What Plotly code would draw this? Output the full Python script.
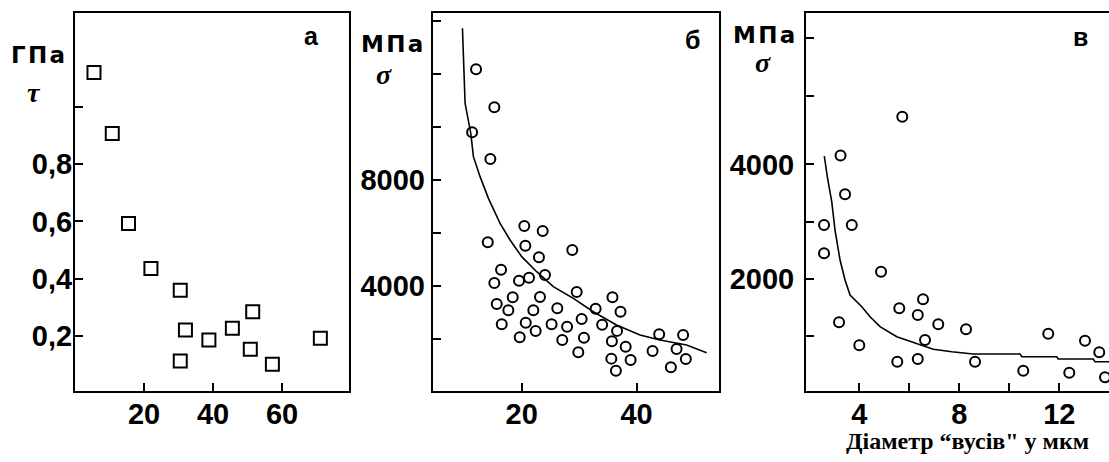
import plotly.graph_objects as go

W, H = 1109, 462

# ---------------- data ----------------
# panel a: shear strength tau (GPa) vs diameter
a_x = [5.5, 10.8, 15.5, 22.0, 30.5, 32.0, 30.5, 38.8, 45.6, 51.5, 50.8, 57.2, 71.1]
a_y = [1.12, 0.907, 0.593, 0.436, 0.36, 0.221, 0.113, 0.186, 0.227, 0.285, 0.154, 0.101, 0.192]

# panel b: sigma (MPa) vs diameter
b_x = [12.05, 15.23, 11.36, 14.54, 14.09, 20.45, 23.65, 20.63, 28.8, 23.0, 16.4, 15.23,
       19.53, 21.27, 24.05, 29.57, 18.43, 23.18, 35.8, 15.65, 17.67, 22.02, 26.19, 32.87,
       37.2, 16.52, 20.7, 22.43, 25.2, 27.9, 30.43, 34.0, 36.6, 19.65, 27.06, 30.83,
       35.7, 38.1, 29.85, 35.6, 38.96, 36.4, 42.78, 43.93, 48.1, 46.96, 48.57, 45.97]
b_y = [12189, 10751, 9805, 8794, 5642, 6259, 6070, 5514, 5351, 5075, 4605, 4102,
       4189, 4303, 4405, 3762, 3561, 3572, 3561, 3308, 3069, 3069, 3145, 3130,
       3016, 2539, 2600, 2286, 2539, 2449, 2740, 2524, 2290, 2047, 1945, 2032,
       1900, 1692, 1480, 1240, 1189, 784, 1529, 2161, 2134, 1605, 1226, 912]
b_curve_x = [9.68, 9.86, 10.14, 11.13, 11.59, 12.75, 14.2, 16.23, 17.97, 20.0, 22.6,
             25.5, 28.99, 32.46, 36.5, 40.6, 44.06, 48.7, 52.2]
b_curve_y = [13743, 12418, 10903, 9767, 8884, 8127, 7306, 6360, 5729, 5098, 4530,
             3962, 3520, 3016, 2511, 2132, 1943, 1754, 1463]

# panel c: sigma (MPa) vs diameter
c_x = [5.72, 3.25, 3.43, 3.70, 2.59, 2.59, 4.87, 6.55, 5.60, 6.34, 3.19, 7.16,
       8.27, 4.00, 6.63, 5.52, 6.34, 8.63, 10.56, 11.56, 13.03, 13.60, 12.40, 13.83]
c_y = [4830, 4155, 3478, 2942, 2942, 2448, 2128, 1646, 1489, 1372, 1244, 1209,
       1122, 843, 936, 557, 604, 557, 400, 1045, 923, 721, 365, 285]
c_curve_x = [2.60, 2.72, 2.90, 3.03, 3.23, 3.43, 3.63, 4.10, 4.43, 4.83, 5.50, 6.43,
             6.96, 7.70, 8.56, 10.43, 10.50, 11.90, 11.96, 13.36, 13.43, 14.0]
c_curve_y = [4146, 3785, 3340, 2850, 2332, 1983, 1721, 1517, 1342, 1168, 993, 848,
             773, 731, 691, 691, 644, 644, 604, 604, 557, 557]

# tick labels
a_yticks = [0.2, 0.4, 0.6, 0.8, 1.0]
a_ytext = ["0,2", "0,4", "0,6", "0,8", ""]
a_xticks = [20, 40, 60]
b_yticks = [2000, 4000, 6000, 8000, 10000, 12000, 14000]
b_ytext = ["", "4000", "", "8000", "", "", ""]
b_xticks = [20, 40]
c_yticks = [1000, 2000, 3000, 4000, 5200, 6200]
c_ytext = ["", "2000", "", "4000", "", ""]
c_xticks = [4, 6, 8, 10, 12]
c_xtext = ["4", "", "8", "", "12"]

# ---------------- figure ----------------
def px(v):
    return v / W

def py(v):
    return 1 - v / H

fig = go.Figure()
circ = dict(symbol="circle-open", size=10, color="black", line=dict(width=2, color="black"))
fig.add_trace(go.Scatter(x=a_x, y=a_y, mode="markers", xaxis="x", yaxis="y",
                         marker=dict(symbol="square-open", size=13, color="black",
                                     line=dict(width=2, color="black"))))
fig.add_trace(go.Scatter(x=b_x, y=b_y, mode="markers", xaxis="x2", yaxis="y2", marker=circ))
fig.add_trace(go.Scatter(x=b_curve_x, y=b_curve_y, mode="lines", xaxis="x2", yaxis="y2",
                         line=dict(color="black", width=1.6)))
fig.add_trace(go.Scatter(x=c_x, y=c_y, mode="markers", xaxis="x3", yaxis="y3", marker=circ))
fig.add_trace(go.Scatter(x=c_curve_x, y=c_curve_y, mode="lines", xaxis="x3", yaxis="y3",
                         line=dict(color="black", width=1.6)))

tickfont = dict(family="Liberation Sans, Arial", size=29, color="black", weight="bold")
common = dict(showline=True, linewidth=2, linecolor="black", ticks="inside", ticklen=8,
              tickwidth=2, tickcolor="black", showgrid=False, zeroline=False,
              tickfont=tickfont)
ydom = [py(391), py(13.3)]

fig.update_layout(
    width=W, height=H, margin=dict(l=0, r=0, t=0, b=0),
    paper_bgcolor="white", plot_bgcolor="white", showlegend=False,
    xaxis=dict(domain=[px(75), px(349)], range=[0, 79.4], anchor="y", mirror=True,
               tickvals=a_xticks, ticklabelstandoff=-4, **common),
    yaxis=dict(domain=ydom, range=[0.008, 1.327], anchor="x", mirror=True,
               tickvals=a_yticks, ticktext=a_ytext, ticklabelstandoff=-5, **common),
    xaxis2=dict(domain=[px(432.7), px(719.3)], range=[4.5, 54.4], anchor="y2", mirror=True,
                tickvals=b_xticks, ticklabelstandoff=-4, **common),
    yaxis2=dict(domain=ydom, range=[15, 14308], anchor="x2", mirror=True,
                tickvals=b_yticks, ticktext=b_ytext, ticklabelstandoff=0, **common),
    xaxis3=dict(domain=[px(806), 1.0], range=[1.868, 13.99], anchor="y3", mirror=True,
                tickvals=c_xticks, ticktext=c_xtext, ticklabelstandoff=-4, **common),
    yaxis3=dict(domain=ydom, range=[46, 6636], anchor="x3", mirror=False,
                tickvals=c_yticks, ticktext=c_ytext, ticklabelstandoff=4, **common),
)

unit_font = dict(family="DejaVu Sans", size=23, color="black", weight="bold")
sym_font = dict(family="Liberation Serif, Times New Roman", size=28, color="black",
                weight="bold", style="italic")
letter_font = dict(family="Liberation Sans, Arial", size=25, color="black", weight="bold")

def ann(x, y, text, font):
    fig.add_annotation(x=px(x), y=py(y), xref="paper", yref="paper", text=text,
                       showarrow=False, font=font, xanchor="center", yanchor="middle")

ann(38, 55, "Г\u200aП\u200aа", unit_font)
ann(34, 92, "τ", sym_font)
ann(392, 44, "М\u200aП\u200aа", unit_font)
ann(384, 74, "σ", sym_font)
ann(764, 35, "М\u200aП\u200aа", unit_font)
ann(763, 62, "σ", sym_font)
ann(311, 36, "а", letter_font)
ann(692, 40, "б", letter_font)
ann(1080, 37, "в", letter_font)
ann(967, 441, "Діаметр “вусів\" у мкм",
    dict(family="Liberation Serif, Times New Roman", size=24, color="black", weight="bold"))

fig.write_html("out.html", config={"displayModeBar": False},
               post_script="document.body.style.margin='0';")
